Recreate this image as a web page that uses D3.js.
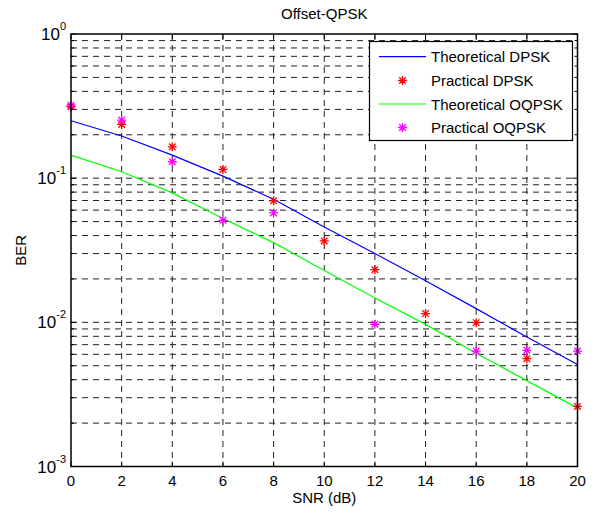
<!DOCTYPE html>
<html>
<head>
<meta charset="utf-8">
<script src="https://cdn.jsdelivr.net/npm/d3@7"></script>
<style>
  html, body { margin: 0; padding: 0; background: #fff; }
  text { font-family: "Liberation Sans", Arial, sans-serif; fill: #000; }
</style>
</head>
<body>
<script>
// ---- data ----
const snr = [0, 2, 4, 6, 8, 10, 12, 14, 16, 18, 20];
const theoreticalDPSK = [0.25, 0.196, 0.1445, 0.1033, 0.0714, 0.0459, 0.0300, 0.0194, 0.01245, 0.0079, 0.0051];
const practicalDPSK = [0.313, 0.236, 0.165, 0.115, 0.0696, 0.0367, 0.0232, 0.0115, 0.00995, 0.0056, 0.00261];
const theoreticalOQPSK = [0.1445, 0.1107, 0.0791, 0.0525, 0.0357, 0.0229, 0.01476, 0.00968, 0.0061, 0.00394, 0.00254];
const practicalOQPSK = [0.321, 0.253, 0.130, 0.051, 0.0574, null, 0.0097, null, 0.00632, 0.0064, 0.00632];
const xTicks = [0, 2, 4, 6, 8, 10, 12, 14, 16, 18, 20];
const yDecades = [-3, -2, -1, 0];
const legendLabels = ["Theoretical DPSK", "Practical DPSK", "Theoretical OQPSK", "Practical OQPSK"];
const titleText = "Offset-QPSK";
const xLabelText = "SNR (dB)";
const yLabelText = "BER";

(function () {
// ---- layout ----
const W = 595, H = 513;
const pL = 71, pR = 577.5, pT = 34, pB = 466.5;

const svg = d3.select("body").append("svg").attr("width", W).attr("height", H);

const x = d3.scaleLinear().domain([0, 20]).range([pL, pR]);
const y = d3.scaleLog().domain([1e-3, 1]).range([pB, pT]);

const yGridVals = [];
for (let k = -3; k < 0; k++) {
  for (let m = 1; m <= 9; m++) yGridVals.push(m * Math.pow(10, k));
}
yGridVals.push(1);

const grid = svg.append("g").attr("stroke", "#222").attr("stroke-width", 1).attr("stroke-dasharray", "6,5");
grid.selectAll("line.h").data(yGridVals.filter(v => v > 1e-3 && v < 1)).enter().append("line")
  .attr("x1", pL).attr("x2", pR)
  .attr("y1", d => y(d)).attr("y2", d => y(d));
grid.selectAll("line.v").data(xTicks.filter(v => v > 0 && v < 20)).enter().append("line")
  .attr("y1", pT).attr("y2", pB)
  .attr("x1", d => x(d)).attr("x2", d => x(d));

const tk = svg.append("g").attr("stroke", "#000").attr("stroke-width", 1);
xTicks.forEach(v => {
  tk.append("line").attr("x1", x(v)).attr("x2", x(v)).attr("y1", pB).attr("y2", pB - 5);
  tk.append("line").attr("x1", x(v)).attr("x2", x(v)).attr("y1", pT).attr("y2", pT + 5);
});
yGridVals.forEach(v => {
  const isMajor = Math.abs(Math.log10(v) - Math.round(Math.log10(v))) < 1e-9;
  const len = isMajor ? 5 : 3;
  tk.append("line").attr("x1", pL).attr("x2", pL + len).attr("y1", y(v)).attr("y2", y(v));
  tk.append("line").attr("x1", pR).attr("x2", pR - len).attr("y1", y(v)).attr("y2", y(v));
});

const line = d3.line().x((d, i) => x(snr[i])).y(d => y(d));
svg.append("path").datum(theoreticalDPSK).attr("d", line)
  .attr("fill", "none").attr("stroke", "#0000ff").attr("stroke-width", 1.2);
svg.append("path").datum(theoreticalOQPSK).attr("d", line)
  .attr("fill", "none").attr("stroke", "#00ff00").attr("stroke-width", 1.2);

function star(g, cx, cy, color) {
  const a = 4.5, b = 3.3;
  const p = `M${cx - a},${cy}L${cx + a},${cy}M${cx},${cy - a}L${cx},${cy + a}` +
            `M${cx - b},${cy - b}L${cx + b},${cy + b}M${cx - b},${cy + b}L${cx + b},${cy - b}`;
  g.append("path").attr("d", p).attr("stroke", color).attr("stroke-width", 1.3).attr("fill", "none");
}
const marks = svg.append("g");
practicalDPSK.forEach((v, i) => { if (v != null) star(marks, x(snr[i]), y(v), "#ff0000"); });
practicalOQPSK.forEach((v, i) => { if (v != null) star(marks, x(snr[i]), y(v), "#ff00ff"); });

svg.append("rect").attr("x", pL).attr("y", pT).attr("width", pR - pL).attr("height", pB - pT)
  .attr("fill", "none").attr("stroke", "#000").attr("stroke-width", 1.5);

svg.append("g").selectAll("text").data(xTicks).enter().append("text")
  .attr("x", d => x(d)).attr("y", 486).attr("text-anchor", "middle")
  .style("font-size", "15px").text(d => d);

const yl = svg.append("g");
yDecades.forEach(k => {
  const t = yl.append("text").attr("x", 66).attr("y", y(Math.pow(10, k)) + 6).attr("text-anchor", "end");
  t.append("tspan").style("font-size", "17px").text("10");
  t.append("tspan").attr("dy", -10).style("font-size", "11px").text(String(k));
});

svg.append("text").attr("x", (pL + pR) / 2).attr("y", 18.5).attr("text-anchor", "middle")
  .style("font-size", "15px").text(titleText);
svg.append("text").attr("x", (pL + pR) / 2).attr("y", 503).attr("text-anchor", "middle")
  .style("font-size", "15px").text(xLabelText);
svg.append("text").attr("transform", `translate(26,${(pT + pB) / 2}) rotate(-90)`).attr("text-anchor", "middle")
  .style("font-size", "15px").text(yLabelText);

const lg = svg.append("g");
lg.append("rect").attr("x", 369.5).attr("y", 41.5).attr("width", 203).attr("height", 99)
  .attr("fill", "#fff").attr("stroke", "#000").attr("stroke-width", 1.2);
const rowY = [56.7, 80.5, 104, 127.5];
const legendColors = ["#0000ff", "#ff0000", "#00ff00", "#ff00ff"];
legendLabels.forEach((lab, i) => {
  if (i % 2 === 0) {
    lg.append("line").attr("x1", 379).attr("x2", 426).attr("y1", rowY[i]).attr("y2", rowY[i])
      .attr("stroke", legendColors[i]).attr("stroke-width", 1.2);
  } else {
    star(lg, 402.5, rowY[i], legendColors[i]);
  }
  lg.append("text").attr("x", 431).attr("y", rowY[i] + 5.5).style("font-size", "15px").text(lab);
});
})();
</script>
</body>
</html>
